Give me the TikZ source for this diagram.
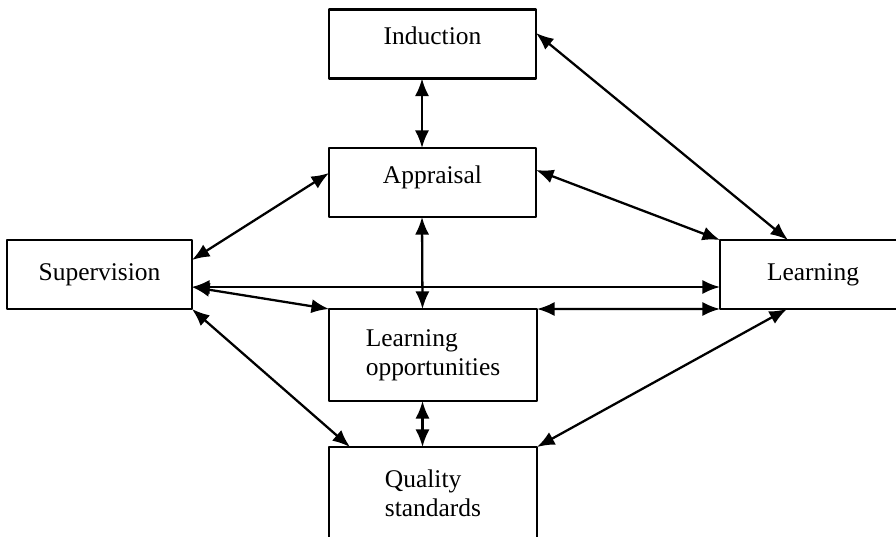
\documentclass[tikz,border=0pt]{standalone}
\usepackage{fontspec}
\setmainfont{Liberation Serif}
\usetikzlibrary{arrows.meta}
\begin{document}
\begin{tikzpicture}[x=0.02cm, y=-0.02cm, line width=1.3pt, line join=round, font=\fontsize{14.5}{16.5}\selectfont, >={Latex[length=10pt,width=8pt]}]
\tikzset{box/.style={draw, inner sep=2pt, outer sep=0pt, minimum width=4.14cm, minimum height=1.38cm, align=left},
  tall/.style={minimum width=4.16cm, minimum height=1.84cm},
  raised/.style={text depth=0.33cm}}
\useasboundingbox (0,0) rectangle (896,537);
% boxes
\node[box, raised] (ind) at (432.5,44) {Induction};
\node[box, raised] (app) at (432.5,182.5) {Appraisal};
\node[box, minimum width=3.7cm] (sup) at (99.5,274.5) {Supervision};
\node[box, minimum width=3.72cm] (lrn) at (813,274.5) {Learning};
\node[box, tall] (lo) at (433,355) {Learning\\opportunities};
\node[box, tall] (qs) at (433,493) {Quality\\standards};
% links
\draw[<->] ([xshift=-0.21cm]ind.south) -- ([xshift=-0.21cm]app.north);
\draw[<->] ([xshift=-0.21cm]app.south) -- ([xshift=-0.21cm]lo.north);
\draw[<->] ([xshift=-0.21cm]lo.south) -- ([xshift=-0.21cm]qs.north);
\draw[<->] ([yshift=0.22cm]ind.east) -- ([xshift=1.36cm]lrn.north west);
\draw[<->] ([yshift=0.25cm]app.east) -- (lrn.north west);
\draw[<->] ([yshift=0.29cm]sup.east) -- ([yshift=0.19cm]app.west);
\draw[<->] ([yshift=-0.25cm]sup.east) -- ([yshift=-0.25cm]lrn.west);
\draw[<->] ([yshift=-0.25cm]sup.east) -- (lo.north west);
\draw[<->] (lo.north east) -- (lrn.south west);
\draw[<->] (sup.south east) -- ([xshift=0.42cm]qs.north west);
\draw[<->] ([xshift=1.34cm]lrn.south west) -- (qs.north east);
\end{tikzpicture}
\end{document}
